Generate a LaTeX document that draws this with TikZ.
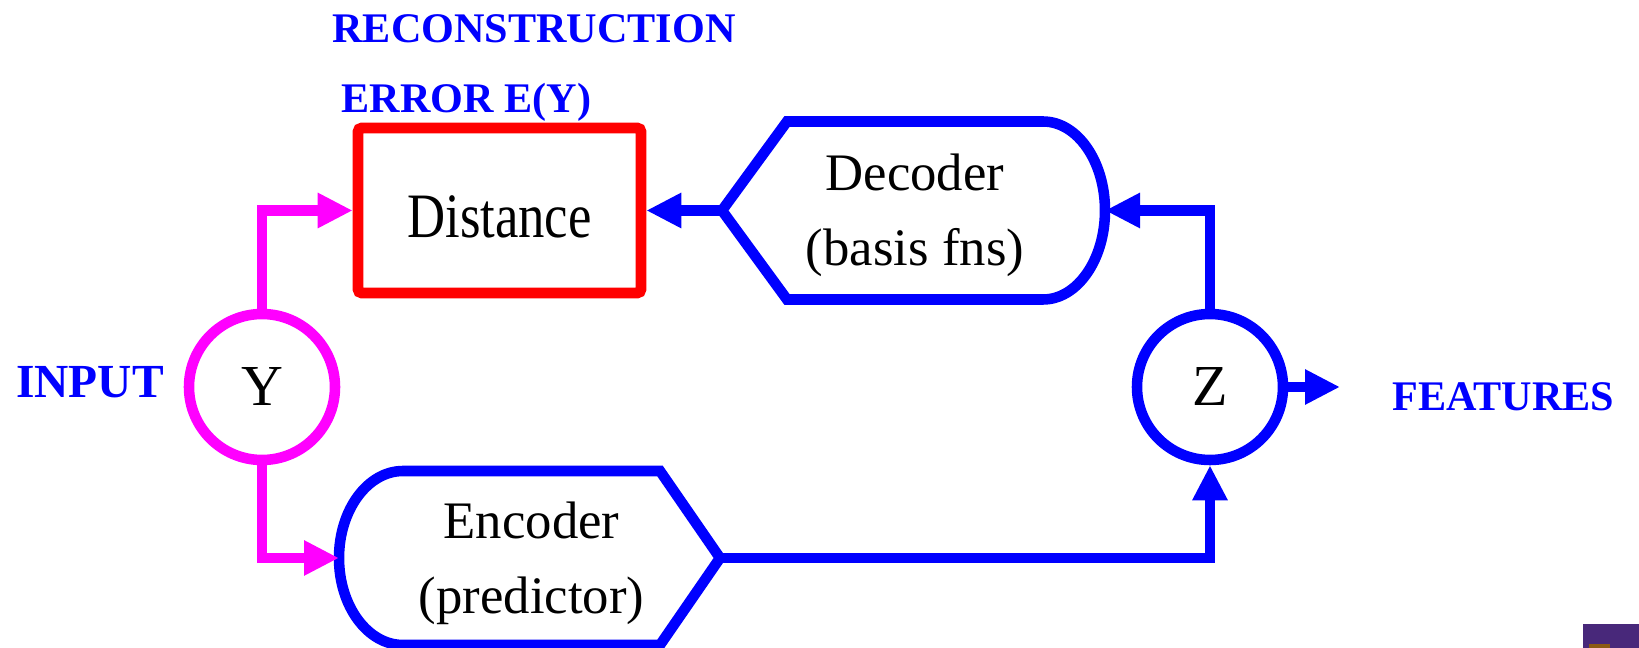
\documentclass[tikz,border=0pt]{standalone}
\usepackage{fontspec}
\setmainfont{Liberation Serif}
\usetikzlibrary{arrows.meta}
\definecolor{inp}{HTML}{FF00FF}
\definecolor{net}{HTML}{0000FF}
\definecolor{err}{HTML}{FF0000}
\definecolor{logo}{HTML}{48287A}
\definecolor{logob}{HTML}{8C5A14}

\begin{document}
\begin{tikzpicture}[
  wire/.style={line width=6pt,-{Triangle[length=0.7cm,width=0.66cm]}},
  var/.style={circle,draw,line width=6pt,minimum size=2.92cm,inner sep=0pt,font=\fontsize{33}{40}\selectfont},
  lbl/.style={anchor=base,text=net,font=\fontsize{24}{29}\selectfont\bfseries},
  blk/.style={align=center,font=\fontsize{30}{43}\selectfont}]
  \useasboundingbox (0,0) rectangle (32.78,12.96);

  % labels
  \node[lbl] (rec) at (10.68,12.1) {RECONSTRUCTION};
  \node[lbl] (errlbl) at (9.33,10.7) {ERROR E(Y)};
  \node[lbl,font=\fontsize{27}{32}\selectfont\bfseries] (inlbl) at (1.8,5.0) {INPUT};
  \node[lbl] (featlbl) at (30.07,4.74) {FEATURES};

  % variables
  \node[var,draw=inp] (y) at (5.24,5.22) {Y};
  \node[var,draw=net] (z) at (24.2,5.22) {Z};

  % distance
  \node[blk,draw=err,line width=6pt,rounded corners=2pt,minimum width=5.66cm,minimum height=3.3cm,
    text height=1.1cm,text depth=0cm] (dist) at (9.99,8.75) {\scalebox{1}[1.2]{Distance}};

  % decoder
  \draw[net,line width=6pt] (15.74,10.53) -- (20.86,10.53)
    arc[start angle=90,end angle=-90,x radius=1.24cm,y radius=1.78cm]
    -- (15.74,6.97) -- (14.44,8.75) -- cycle;
  \node[blk] (dec) at (18.3,8.65) {Decoder\\(basis fns)};
  \coordinate (dec-r) at (22.1,8.75);
  \coordinate (dec-l) at (14.44,8.75);

  % encoder
  \draw[net,line width=6pt] (13.2,3.54) -- (8.06,3.54)
    arc[start angle=90,end angle=270,x radius=1.28cm,y radius=1.74cm]
    -- (13.2,0.06) -- (14.4,1.8) -- cycle;
  \node[blk] (enc) at (10.63,1.69) {Encoder\\(predictor)};
  \coordinate (enc-l) at (6.78,1.8);
  \coordinate (enc-r) at (14.4,1.8);

  % connectors
  \draw[wire,inp] (y.north) |- (dist.west);
  \draw[wire,inp] (y.south) |- (enc-l);
  \draw[wire,net] (enc-r) -| (z.south);
  \draw[wire,net] (z.north) |- (dec-r);
  \draw[wire,net] (dec-l) -- (dist.east);
  \coordinate (zout) at (26.8,5.22);
  \draw[wire,net] (z.east) -- (zout);

  % logo corner
  \fill[logo] (31.66,0) rectangle (32.78,0.48);
  \fill[logob] (31.78,0) rectangle (32.2,0.08);
\end{tikzpicture}
\end{document}
